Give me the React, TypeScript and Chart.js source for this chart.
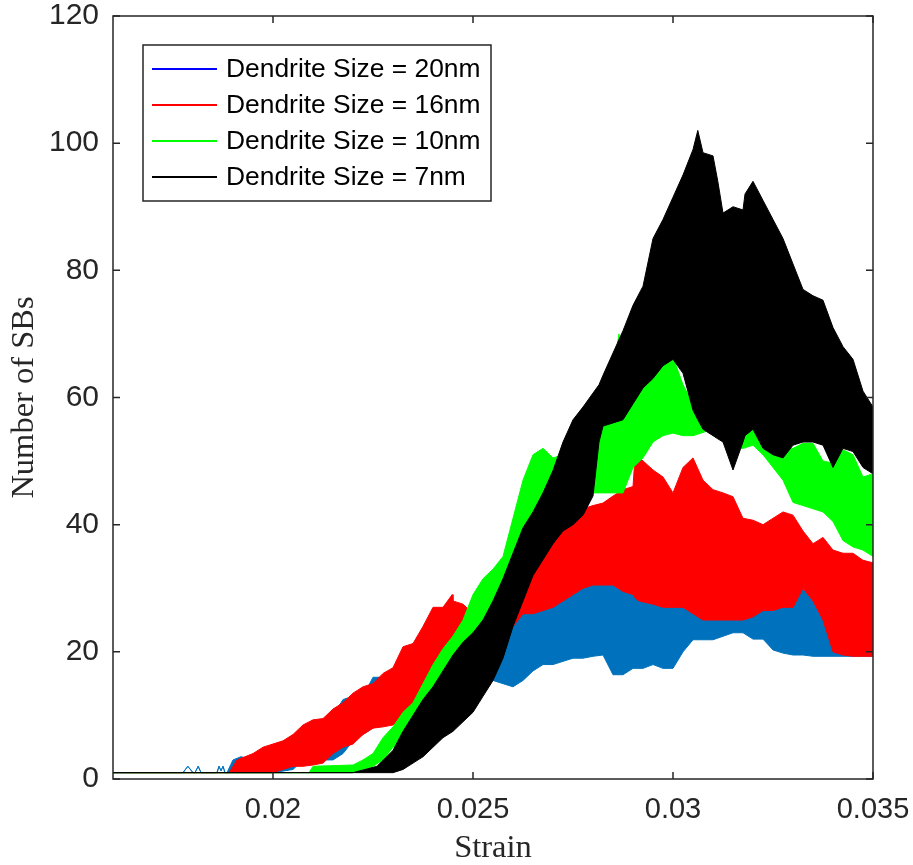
import { useEffect, useRef } from "react";
import { Chart, registerables } from "chart.js";

Chart.register(...registerables);

// Axis ticks
const strainTicks = [0.02, 0.025, 0.03, 0.035];
const strainTickLabels = ["0.02", "0.025", "0.03", "0.035"];
const sbTickStep = 20;

const seriesNames = [
  "Dendrite Size = 20nm",
  "Dendrite Size = 16nm",
  "Dendrite Size = 10nm",
  "Dendrite Size = 7nm",
];
const seriesColors = ["#0072bd", "#ff0000", "#00ff00", "#000000"];
const legendColors = ["#0000ff", "#ff0000", "#00ff00", "#000000"];

// Dendrite size 20 nm: strain, upper and lower envelope of the SB count
const strain20 = [0.016, 0.01775, 0.01787, 0.018, 0.01805, 0.01813, 0.0182, 0.0186, 0.01865, 0.0187, 0.01875, 0.0188, 0.01885, 0.019, 0.0192, 0.0195, 0.02, 0.0205, 0.02075, 0.021, 0.0215, 0.02175, 0.022, 0.02225, 0.0225, 0.02275, 0.023, 0.02325, 0.024, 0.0245, 0.025, 0.0255, 0.02575, 0.026, 0.02625, 0.0265, 0.02675, 0.027, 0.02725, 0.0275, 0.02775, 0.028, 0.02825, 0.0285, 0.02875, 0.029, 0.02925, 0.0295, 0.02975, 0.03, 0.03025, 0.0305, 0.031, 0.0315, 0.03175, 0.032, 0.03225, 0.0325, 0.03275, 0.033, 0.03325, 0.0335, 0.03375, 0.034, 0.035];
const upper20 = [1, 1, 2, 1, 1, 2, 1, 1, 2, 1.3, 2, 1, 1, 3, 3.5, 3, 4, 4, 7, 7, 10, 12.5, 13, 13, 16, 16, 17, 18, 20, 22, 22, 23, 24, 26, 27, 28, 28.5, 29, 29.5, 30, 30.5, 31, 31, 30.5, 29.5, 29, 28, 28, 28, 28, 28, 27, 25.5, 25.5, 25.5, 26.5, 27, 27, 27.5, 28, 30, 28, 25, 20.5, 20];
const lower20 = [1, 1, 2, 1, 1, 2, 1, 1, 2, 1.3, 2, 1, 1, 1, 1, 1, 1, 1.5, 3, 3, 3, 4, 6, 7, 8, 9, 10, 11, 12, 12.5, 13.5, 15.5, 15, 14.5, 15.5, 17, 18, 18, 18.5, 19, 19, 19.3, 19.5, 16.4, 16.4, 17.4, 17.4, 18, 17.4, 17.4, 20, 21.9, 21.9, 23, 23, 22, 22, 20.3, 19.8, 19.5, 19.5, 19.3, 19.3, 19.3, 19.3];

// Dendrite size 16 nm
const strain16 = [0.016, 0.0189, 0.0191, 0.0195, 0.01975, 0.02, 0.02025, 0.0205, 0.02075, 0.021, 0.02125, 0.0215, 0.02175, 0.022, 0.02225, 0.0225, 0.02275, 0.023, 0.02325, 0.0235, 0.02375, 0.024, 0.02425, 0.02448, 0.0245, 0.02475, 0.025, 0.0255, 0.02575, 0.026, 0.02625, 0.0265, 0.02675, 0.027, 0.02725, 0.0275, 0.02775, 0.028, 0.02825, 0.0285, 0.02875, 0.029, 0.02905, 0.02915, 0.0295, 0.02975, 0.03, 0.03025, 0.0305, 0.03075, 0.031, 0.03125, 0.0315, 0.03175, 0.032, 0.03225, 0.0325, 0.03275, 0.033, 0.03325, 0.0335, 0.03375, 0.034, 0.03425, 0.0345, 0.03475, 0.035];
const upper16 = [1, 1, 3, 4, 5, 5.5, 6, 7, 8.5, 9.3, 9.5, 11, 12, 13.5, 14.5, 15, 16.6, 17.5, 20.8, 21.3, 24, 27, 27, 29, 28, 27.5, 26, 25, 28, 31, 32, 33, 35, 38, 40, 41, 42.5, 43, 43.4, 44.5, 45.5, 46, 50.6, 50.6, 48.6, 47.5, 45, 49, 50.5, 47, 45.5, 45, 44.4, 41, 40.7, 40, 41, 42, 41.5, 39, 37, 38, 36, 35.5, 35.5, 34.4, 34];
const lower16 = [1, 1, 1, 1, 1, 1, 1.5, 2, 2, 2.2, 2.5, 4, 5, 5.5, 7, 8, 8.2, 8.5, 9.5, 10.4, 12, 14, 16, 17, 18, 20, 20, 20.8, 22, 24, 26, 26, 26.5, 27, 28, 29, 30, 30.5, 30.5, 30.5, 29.5, 29, 28.5, 28, 27.5, 27, 27, 27, 26, 25, 25, 25, 25, 25, 25.5, 26.5, 26.5, 27, 27, 30, 28, 25, 20, 19.5, 19.3, 19.3, 19.3];

// Dendrite size 10 nm
const strain10 = [0.016, 0.0209, 0.021, 0.022, 0.02225, 0.0225, 0.02275, 0.023, 0.02325, 0.0235, 0.02375, 0.024, 0.02425, 0.0245, 0.02475, 0.025, 0.02525, 0.0255, 0.02575, 0.026, 0.02625, 0.0265, 0.02675, 0.027, 0.02725, 0.0275, 0.02775, 0.028, 0.02825, 0.0285, 0.02865, 0.02875, 0.029, 0.02925, 0.0295, 0.02975, 0.03, 0.03025, 0.0305, 0.031, 0.0315, 0.03175, 0.032, 0.03225, 0.0325, 0.03275, 0.033, 0.03325, 0.0335, 0.03375, 0.034, 0.03425, 0.0345, 0.03475, 0.035];
const upper10 = [1, 1, 2, 2.2, 3, 4, 6.5, 8.2, 10.5, 12, 15, 18, 20.5, 22.5, 25, 29, 31.5, 33, 35, 41, 47, 51, 52, 50.5, 51, 56, 58.5, 59.5, 62, 64, 70, 63, 61, 62.5, 64, 66.4, 66.4, 62, 59, 58, 56, 56, 55.5, 56, 53.5, 52, 52, 52.8, 52.8, 50, 49.7, 51.8, 51, 47.5, 48];
const lower10 = [1, 1, 1, 1, 1.5, 2, 3, 5, 6, 8, 10, 12, 14, 16, 18, 20, 22, 24, 26, 30, 33, 36, 38, 40, 41, 42, 44, 45, 45, 45, 45, 45, 49, 50.5, 53, 54, 54.4, 54, 54, 55, 52, 52, 52.5, 51, 49, 47, 43.5, 43, 42.5, 42, 40.5, 37.5, 36.5, 36, 35];

// Dendrite size 7 nm
const strain7 = [0.016, 0.022, 0.0226, 0.023, 0.02325, 0.0235, 0.02375, 0.024, 0.02425, 0.0245, 0.02475, 0.025, 0.02525, 0.0255, 0.02575, 0.026, 0.02625, 0.0265, 0.02675, 0.027, 0.02725, 0.0275, 0.02775, 0.028, 0.02815, 0.02825, 0.0285, 0.02875, 0.029, 0.02925, 0.0295, 0.02975, 0.03, 0.03025, 0.0305, 0.03062, 0.03075, 0.031, 0.03112, 0.03125, 0.0315, 0.03175, 0.0318, 0.032, 0.03225, 0.0325, 0.03275, 0.033, 0.03325, 0.0335, 0.03375, 0.034, 0.03425, 0.0345, 0.03475, 0.035];
const upper7 = [1, 1, 2, 4.5, 7.5, 10, 12.5, 14.5, 17, 19.5, 21.5, 23, 25, 28, 31.5, 35.5, 39.5, 42, 45, 48.5, 53, 56.5, 58.5, 60.7, 62, 63.5, 67, 70.5, 74.5, 77.5, 85, 88, 91.5, 95, 99, 102, 98.5, 98, 94, 89, 90, 89.5, 92, 94, 91, 88, 85, 81, 77, 76, 75.3, 71, 68, 66, 61, 58.5];
const lower7 = [1, 1, 1, 1, 1.5, 2.5, 3.5, 5, 6.5, 7.5, 9, 10.5, 13, 15.5, 19, 24, 28, 32, 34.5, 37, 39, 40, 41.5, 44.5, 53, 55.5, 56, 56.5, 59, 61.5, 63, 65, 66, 63.8, 58, 56.5, 55, 54, 53.5, 53, 48.6, 53, 54, 55, 52, 51, 50.5, 52.5, 53, 53, 52.5, 49, 52, 51.5, 49, 48];

const AXIS_COLOR = "#262626";
const SANS = '"Liberation Sans", Arial, Helvetica, sans-serif';
const SERIF = '"Liberation Serif", "Times New Roman", serif';

function bandDatasets(
  label: string,
  strain: number[],
  upper: number[],
  lower: number[],
  color: string,
  order: number
) {
  const points = (ys: number[]) => strain.map((x, i) => ({ x, y: ys[i] }));
  const common = {
    borderColor: color,
    backgroundColor: color,
    borderWidth: 1,
    pointRadius: 0,
    tension: 0,
    order,
  };
  return [
    { ...common, label, data: points(upper), fill: "+1" },
    { ...common, label: label + " min", data: points(lower), fill: false },
  ];
}

// Keep the plot box exactly where the layout padding puts it
function clearLabelOverhang(s: any) {
  s.paddingLeft = 0;
  s.paddingRight = 0;
  s.paddingTop = 0;
  s.paddingBottom = 0;
}

// Box, inward tick marks and the legend, drawn over the data like a MATLAB axes
const framePlugin = {
  id: "frame",
  afterDatasetsDraw(chart: any) {
    const { ctx, chartArea: a, scales } = chart;
    ctx.save();
    ctx.strokeStyle = AXIS_COLOR;
    ctx.lineWidth = 1.5;
    ctx.strokeRect(a.left, a.top, a.right - a.left, a.bottom - a.top);

    const len = 7;
    ctx.beginPath();
    for (const v of strainTicks) {
      const px = scales.x.getPixelForValue(v);
      ctx.moveTo(px, a.bottom);
      ctx.lineTo(px, a.bottom - len);
      ctx.moveTo(px, a.top);
      ctx.lineTo(px, a.top + len);
    }
    for (const t of scales.y.ticks) {
      const py = scales.y.getPixelForValue(t.value);
      ctx.moveTo(a.left, py);
      ctx.lineTo(a.left + len, py);
      ctx.moveTo(a.right, py);
      ctx.lineTo(a.right - len, py);
    }
    ctx.stroke();

    // legend
    const lx = Math.round(a.left) + 30;
    const ly = Math.round(a.top) + 29;
    const lw = 348;
    const lh = 156;
    ctx.fillStyle = "#ffffff";
    ctx.fillRect(lx, ly, lw, lh);
    ctx.lineWidth = 1.5;
    ctx.strokeStyle = AXIS_COLOR;
    ctx.strokeRect(lx, ly, lw, lh);
    ctx.font = `26.4px ${SANS}`;
    ctx.textBaseline = "middle";
    ctx.textAlign = "left";
    seriesNames.forEach((name, i) => {
      const y = ly + 24 + i * 36;
      ctx.strokeStyle = legendColors[i];
      ctx.lineWidth = 2;
      ctx.beginPath();
      ctx.moveTo(lx + 9, y);
      ctx.lineTo(lx + 74, y);
      ctx.stroke();
      ctx.fillStyle = "#000000";
      ctx.fillText(name, lx + 83, y + 1);
    });
    ctx.restore();
  },
};

export default function App() {
  const canvasRef = useRef<HTMLCanvasElement | null>(null);

  useEffect(() => {
    const canvas = canvasRef.current;
    if (!canvas) return;

    const datasets = [
      ...bandDatasets(seriesNames[0], strain20, upper20, lower20, seriesColors[0], 3),
      ...bandDatasets(seriesNames[1], strain16, upper16, lower16, seriesColors[1], 2),
      ...bandDatasets(seriesNames[2], strain10, upper10, lower10, seriesColors[2], 1),
      ...bandDatasets(seriesNames[3], strain7, upper7, lower7, seriesColors[3], 0),
    ];

    const chart = new Chart(canvas, {
      type: "line",
      data: { datasets } as any,
      options: {
        responsive: false,
        animation: false,
        layout: { padding: { top: 16, right: 40, left: 0, bottom: 0 } },
        plugins: {
          legend: { display: false },
          tooltip: { enabled: false },
        },
        scales: {
          x: {
            type: "linear",
            min: 0.016,
            max: 0.035,
            grid: { display: false, drawTicks: false },
            border: { display: false },
            afterBuildTicks: (s: any) => {
              s.ticks = strainTicks.map((value) => ({ value }));
            },
            afterFit: (s: any) => {
              s.height = 86;
              clearLabelOverhang(s);
            },
            ticks: {
              autoSkip: false,
              maxRotation: 0,
              padding: 16,
              color: AXIS_COLOR,
              font: { family: SANS, size: 29, lineHeight: 1 },
              callback: (_v: any, i: number) => strainTickLabels[i],
            },
            title: {
              display: true,
              text: "Strain",
              color: AXIS_COLOR,
              font: { family: SERIF, size: 32.5, lineHeight: 1 },
              padding: { top: 0, bottom: 0 },
            },
          },
          y: {
            type: "linear",
            min: 0,
            max: 120,
            grid: { display: false, drawTicks: false },
            border: { display: false },
            afterFit: (s: any) => {
              s.width = 113;
              clearLabelOverhang(s);
            },
            ticks: {
              stepSize: sbTickStep,
              padding: 14,
              color: AXIS_COLOR,
              font: { family: SANS, size: 30, lineHeight: 1 },
            },
            title: {
              display: true,
              text: "Number of SBs",
              color: AXIS_COLOR,
              font: { family: SERIF, size: 32.5, lineHeight: 1 },
              padding: { top: 8.5, bottom: 0 },
            },
          },
        },
      } as any,
      plugins: [framePlugin],
    });

    return () => chart.destroy();
  }, []);

  return (
    <div style={{ position: "absolute", left: 0, top: 0, width: 913, height: 865, background: "#ffffff" }}>
      <canvas ref={canvasRef} width={913} height={865} style={{ display: "block" }} />
    </div>
  );
}
